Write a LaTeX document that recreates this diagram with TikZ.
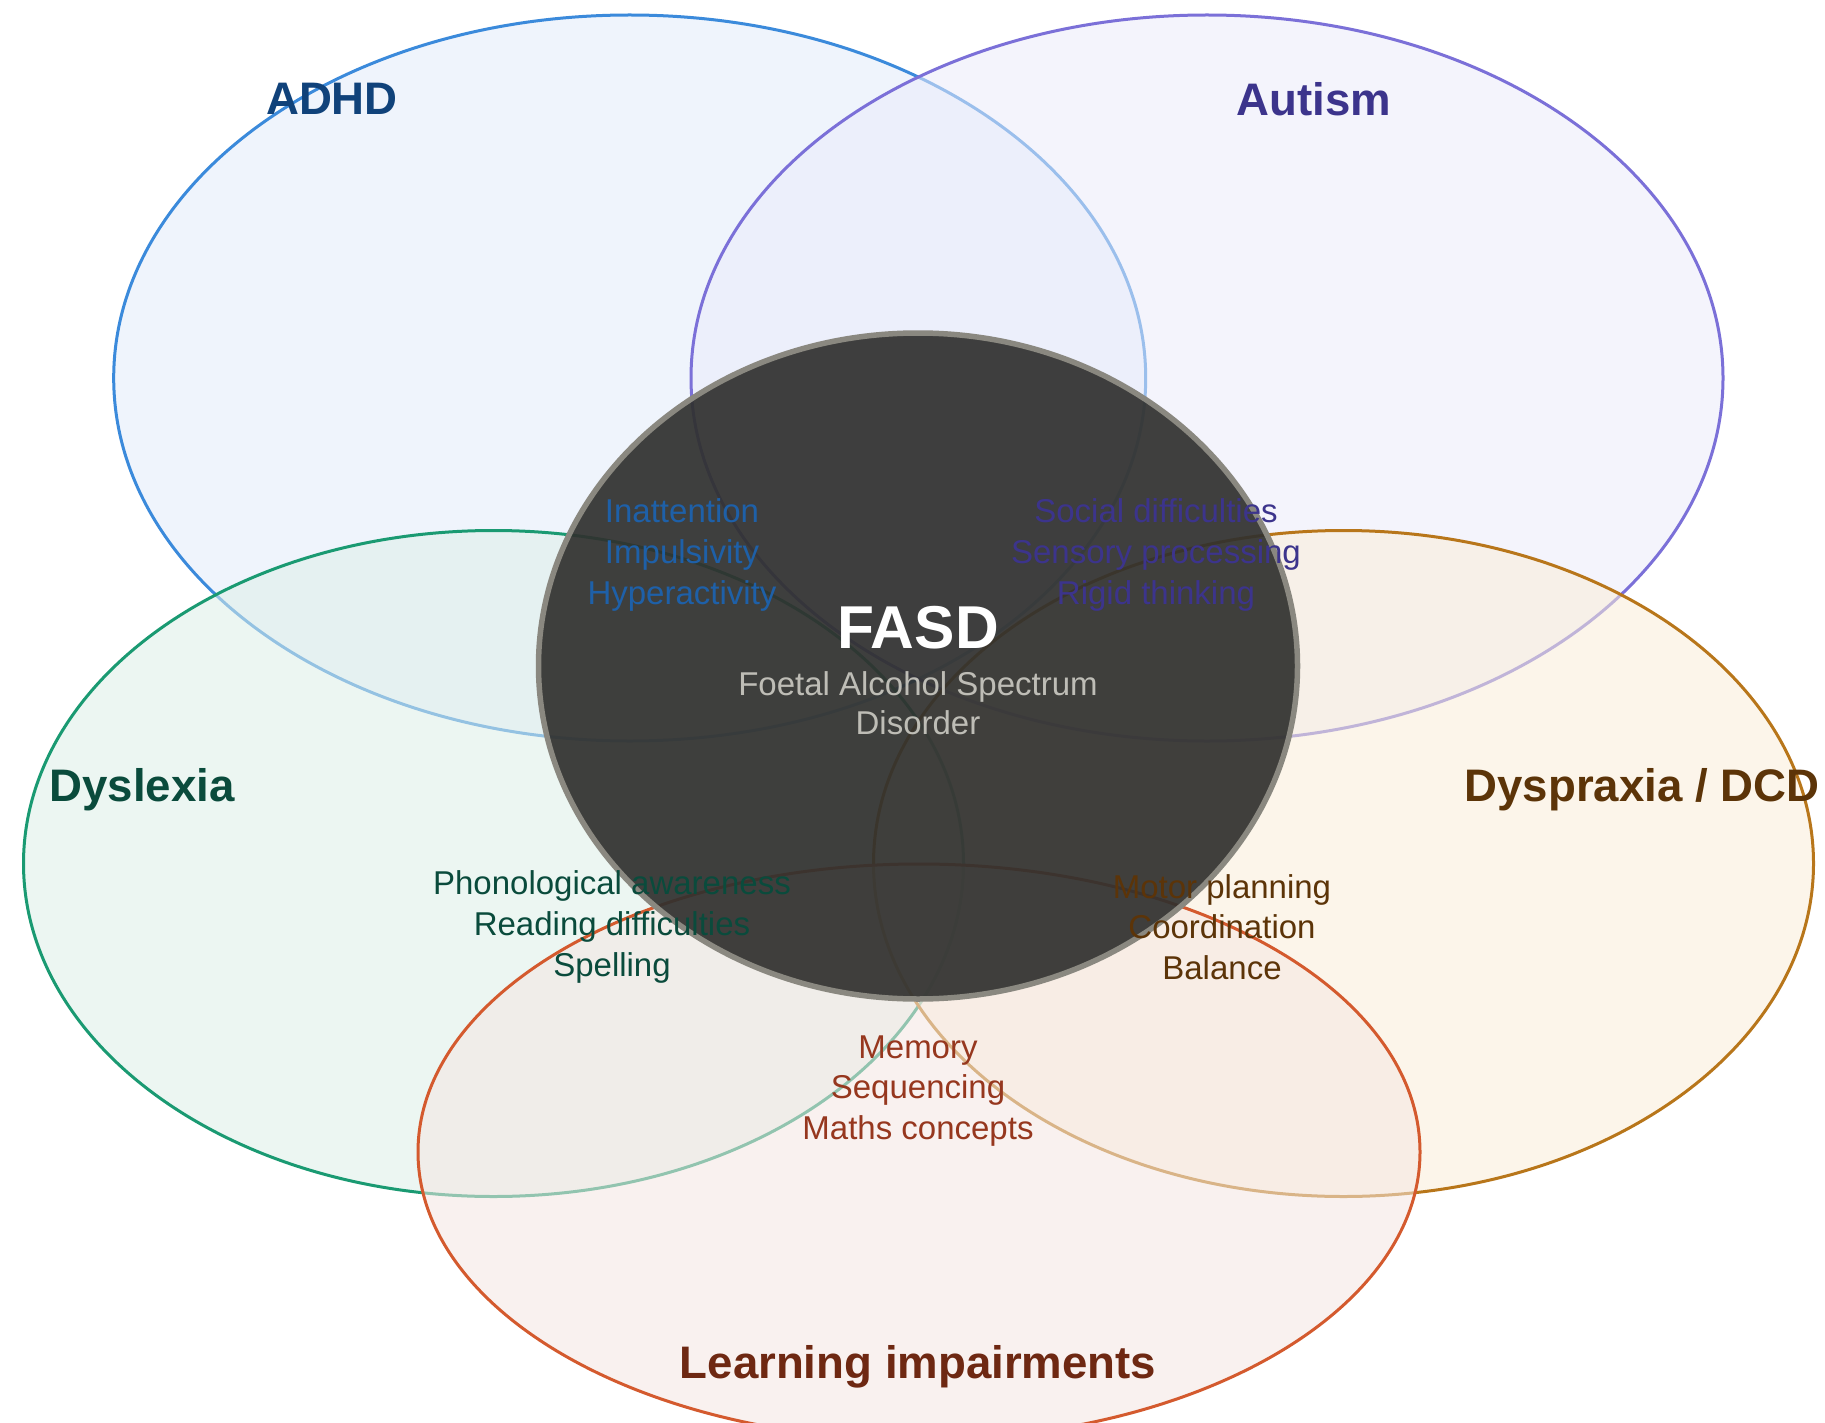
\documentclass[tikz,border=0pt]{standalone}
\usepackage{fontspec}
\setmainfont{Liberation Sans}
\definecolor{adhdline}{RGB}{59,138,219}
\definecolor{adhdfill}{RGB}{227,236,251}
\definecolor{adhdtext}{RGB}{16,66,122}
\definecolor{adhdsub}{RGB}{30,96,168}
\definecolor{autline}{RGB}{123,112,216}
\definecolor{autfill}{RGB}{235,235,251}
\definecolor{auttext}{RGB}{60,52,140}
\definecolor{dysline}{RGB}{26,154,114}
\definecolor{dysfill}{RGB}{222,240,233}
\definecolor{dystext}{RGB}{10,75,60}
\definecolor{dypline}{RGB}{184,118,26}
\definecolor{dypfill}{RGB}{250,237,217}
\definecolor{dyptext}{RGB}{92,52,8}
\definecolor{lrnline}{RGB}{212,90,46}
\definecolor{lrnfill}{RGB}{245,231,226}
\definecolor{lrntext}{RGB}{110,40,18}
\definecolor{lrnsub}{RGB}{150,55,30}
\definecolor{fasdfill}{RGB}{48,48,46}
\definecolor{fasdline}{RGB}{138,136,128}
\definecolor{fasdsub}{RGB}{190,189,182}
\begin{document}
\begin{tikzpicture}[x=1pt,y=-1pt,
  venn/.style={line width=3pt, fill opacity=0.55},
  biglabel/.style={font=\fontsize{45.6}{54}\selectfont\bfseries, inner sep=0pt},
  smalllabel/.style={font=\fontsize{33}{40.7}\selectfont, align=center, inner sep=0pt}]
\useasboundingbox (0,0) rectangle (1825,1423);
\fill[white] (0,0) rectangle (1825,1423);
% outer sets
\draw[venn, draw=adhdline, fill=adhdfill] (629.7,378) ellipse [x radius=516, y radius=363];
\draw[venn, draw=autline, fill=autfill] (1207,378) ellipse [x radius=516, y radius=363];
\draw[venn, draw=dysline, fill=dysfill] (493.5,863.5) ellipse [x radius=470, y radius=333];
\draw[venn, draw=dypline, fill=dypfill] (1343.5,863.5) ellipse [x radius=470, y radius=333];
\draw[venn, draw=lrnline, fill=lrnfill] (919,1152) ellipse [x radius=501, y radius=288];
% centre
\draw[line width=5.5pt, draw=fasdline, fill=fasdfill, fill opacity=0.92] (918,666) ellipse [x radius=379.5, y radius=333];
% set labels
\node[biglabel, text=adhdtext] (adhd) at (332,99) {ADHD};
\node[biglabel, text=auttext] (autism) at (1314,99) {Autism};
\node[biglabel, text=dystext] (dyslexia) at (142,790) {Dyslexia};
\node[biglabel, text=dyptext] (dyspraxia) at (1642,790) {Dyspraxia / DCD};
\node[biglabel, text=lrntext] (learning) at (918,1367) {Learning impairments};
% FASD
\node[font=\fontsize{60.5}{72}\selectfont\bfseries, text=white, inner sep=0pt] (fasd) at (918,628) {FASD};
\node[font=\fontsize{33}{39}\selectfont, text=fasdsub, align=center, inner sep=0pt] (fasdsub) at (918,703) {Foetal Alcohol Spectrum\\Disorder};
% overlap traits
\node[smalllabel, text=adhdsub] (adhdtraits) at (682,555) {Inattention\\Impulsivity\\Hyperactivity};
\node[smalllabel, text=auttext] (auttraits) at (1156,555) {Social difficulties\\Sensory processing\\Rigid thinking};
\node[smalllabel, text=dystext] (dystraits) at (612,927) {Phonological awareness\\Reading difficulties\\Spelling};
\node[smalllabel, text=dyptext] (dyptraits) at (1222,927) {Motor planning\\Coordination\\Balance};
\node[smalllabel, text=lrnsub] (lrntraits) at (918,1091) {Memory\\Sequencing\\Maths concepts};
\end{tikzpicture}
\end{document}
